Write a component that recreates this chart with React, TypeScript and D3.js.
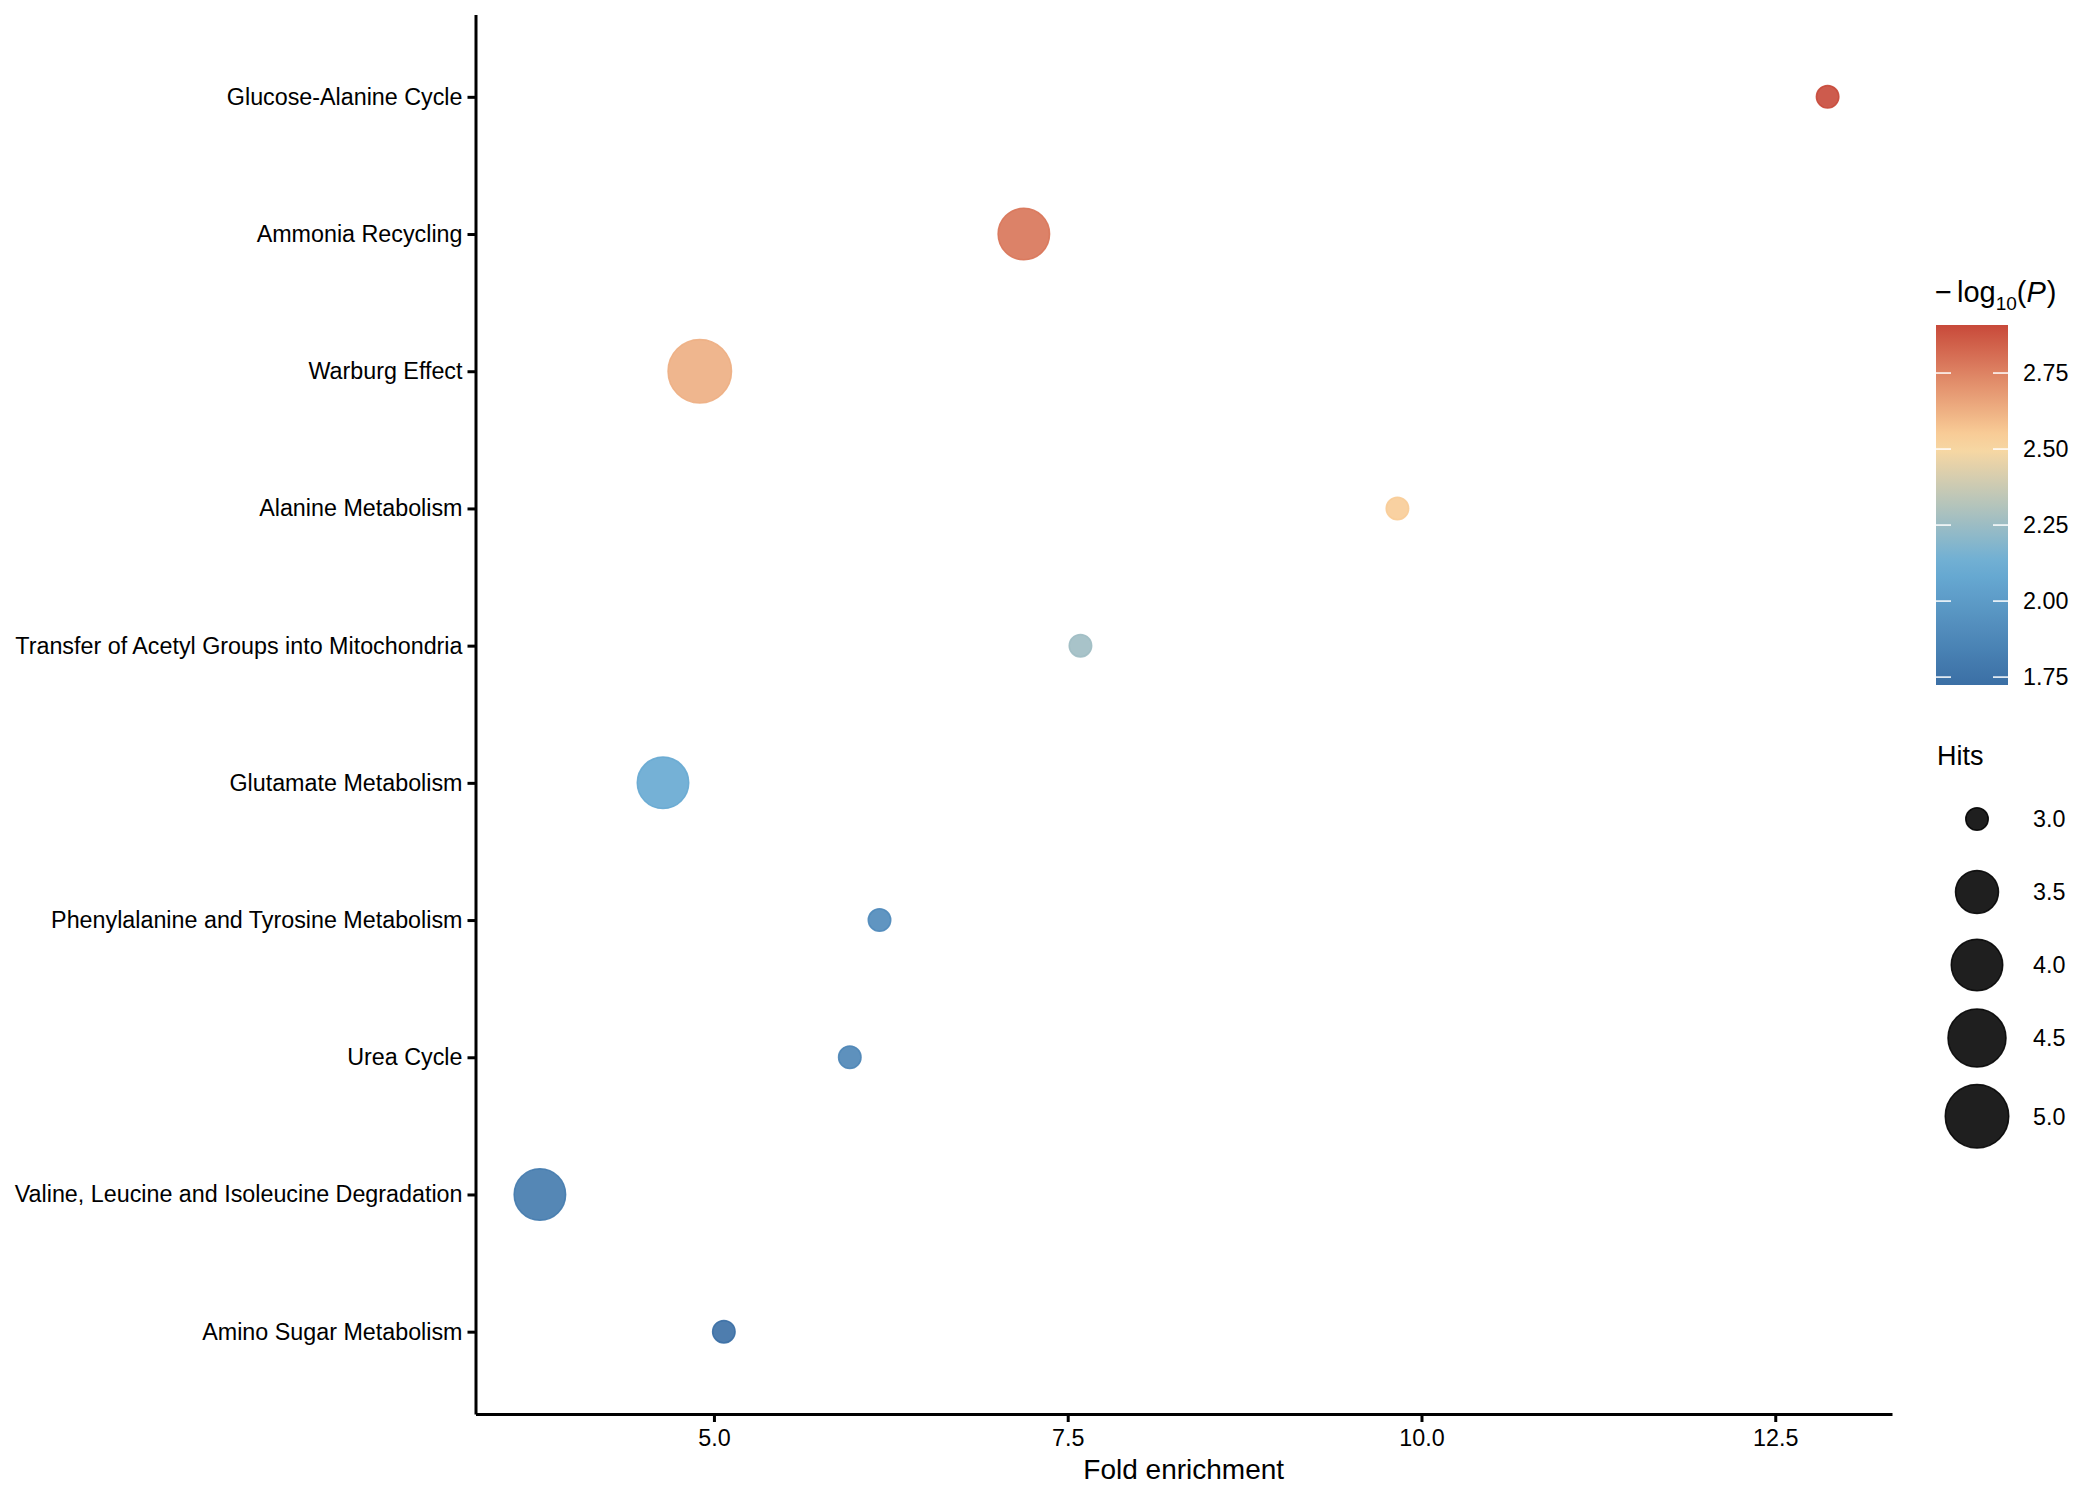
import { useEffect, useRef } from 'react'
import * as d3 from 'd3'

// pathways, top to bottom
const pathways = [
  'Glucose-Alanine Cycle',
  'Ammonia Recycling',
  'Warburg Effect',
  'Alanine Metabolism',
  'Transfer of Acetyl Groups into Mitochondria',
  'Glutamate Metabolism',
  'Phenylalanine and Tyrosine Metabolism',
  'Urea Cycle',
  'Valine, Leucine and Isoleucine Degradation',
  'Amino Sugar Metabolism',
]
const foldEnrichment = [12.87, 7.19, 4.9, 9.83, 7.59, 4.64, 6.17, 5.96, 3.77, 5.07]
const hits = [3, 4, 5, 3, 3, 4, 3, 3, 4, 3]
const negLogP = [2.908, 2.79, 2.63, 2.55, 2.26, 2.08, 1.89, 1.86, 1.79, 1.724]

const xTicks = [5, 7.5, 10, 12.5]
const pTicks = [1.75, 2.0, 2.25, 2.5, 2.75]
const hitTicks = [3, 3.5, 4, 4.5, 5]
const palette = ['#3B6FA5', '#6BAED6', '#FDD9A0', '#C8493A']

const FONT = '"Liberation Sans", Arial, Helvetica, sans-serif'

const App = () => {
  const ref = useRef<SVGSVGElement>(null)

  useEffect(() => {
    if (!ref.current) return
    const svg = d3.select(ref.current)
    svg.selectAll('*').remove()

    // panel
    const left = 475.5, right = 1892, top = 14.5, bottom = 1414

    const data = pathways.map((p, i) => ({
      p, fe: foldEnrichment[i], hits: hits[i], lp: negLogP[i],
    }))

    // x scale with ggplot-like 5% expansion
    const [xmin, xmax] = d3.extent(foldEnrichment) as [number, number]
    const pad = (xmax - xmin) * 0.05
    const x = d3.scaleLinear().domain([xmin - pad, xmax + pad]).range([left, right])

    const y = d3.scalePoint<string>().domain(pathways).range([top, bottom]).padding(0.6)

    // colour
    const [pmin, pmax] = d3.extent(negLogP) as [number, number]
    const color = d3.scaleLinear<string>()
      .domain(palette.map((_, i) => pmin + (i * (pmax - pmin)) / (palette.length - 1)))
      .range(palette)
      .interpolate(d3.interpolateRgb)

    // size (area-ish like ggplot scale_size)
    const hitT = d3.scaleLinear().domain([3, 5]).range([0, 1])
    const rScale = d3.scaleLinear().domain([0, 1]).range([12, 32.5])
    const radius = (h: number) => rScale(Math.sqrt(hitT(h)))

    const g = svg.append('g').style('font-family', FONT)

    // x axis
    const xAxis = g.append('g')
      .attr('transform', `translate(0,${bottom})`)
      .call(d3.axisBottom(x).tickValues(xTicks).tickFormat(d3.format('.1f')).tickSize(8).tickSizeOuter(0).tickPadding(7))
    xAxis.select('.domain').attr('stroke', '#000').attr('stroke-width', 3)
    xAxis.selectAll('.tick line').attr('stroke', '#000').attr('stroke-width', 3)
    xAxis.selectAll('.tick text').style('font-size', '23.3px').style('font-family', FONT).attr('fill', '#000')

    // y axis
    const yAxis = g.append('g')
      .attr('transform', `translate(${left},0)`)
      .call(d3.axisLeft(y).tickSize(8).tickSizeOuter(0).tickPadding(5))
    yAxis.select('.domain').attr('stroke', '#000').attr('stroke-width', 3)
    yAxis.selectAll('.tick line').attr('stroke', '#000').attr('stroke-width', 3)
    yAxis.selectAll('.tick text').style('font-size', '23.3px').style('font-family', FONT).attr('fill', '#000')

    // x title
    g.append('text')
      .attr('x', (left + right) / 2)
      .attr('y', 1479)
      .attr('text-anchor', 'middle')
      .style('font-size', '28px')
      .text('Fold enrichment')

    // points
    g.selectAll('.pt')
      .data(data)
      .enter()
      .append('circle')
      .attr('class', 'pt')
      .attr('cx', d => x(d.fe))
      .attr('cy', d => y(d.p) as number)
      .attr('r', d => radius(d.hits) - 0.75)
      .attr('fill', d => color(d.lp))
      .attr('fill-opacity', 0.9)
      .attr('stroke', d => color(d.lp))
      .attr('stroke-opacity', 0.9)
      .attr('stroke-width', 1.5)

    // colour bar legend
    const cbX = 1936, cbW = 72, cbTop = 325, cbBottom = 685
    const cy = d3.scaleLinear().domain([pmin, pmax]).range([cbBottom, cbTop])
    const defs = svg.append('defs')
    const grad = defs.append('linearGradient')
      .attr('id', 'cbar')
      .attr('x1', 0).attr('y1', 1).attr('x2', 0).attr('y2', 0)
    d3.range(0, 1.0001, 0.05).forEach(t => {
      grad.append('stop')
        .attr('offset', t)
        .attr('stop-color', color(pmin + t * (pmax - pmin)))
    })
    g.append('rect')
      .attr('x', cbX).attr('y', cbTop)
      .attr('width', cbW).attr('height', cbBottom - cbTop)
      .attr('fill', 'url(#cbar)')
    pTicks.forEach(t => {
      g.append('line')
        .attr('x1', cbX).attr('x2', cbX + 15)
        .attr('y1', cy(t)).attr('y2', cy(t))
        .attr('stroke', '#fff').attr('stroke-width', 1.5)
      g.append('line')
        .attr('x1', cbX + cbW - 15).attr('x2', cbX + cbW)
        .attr('y1', cy(t)).attr('y2', cy(t))
        .attr('stroke', '#fff').attr('stroke-width', 1.5)
      g.append('text')
        .attr('x', 2023)
        .attr('y', cy(t))
        .attr('dy', '0.36em')
        .style('font-size', '23.3px')
        .text(d3.format('.2f')(t))
    })

    // colour bar title: -log10(P)
    const title = g.append('text').attr('x', 1935).attr('y', 302).style('font-size', '29px')
    title.append('tspan').text('\u2212')
    title.append('tspan').attr('dx', 5).text('log')
    title.append('tspan').attr('dy', 8).style('font-size', '19px').text('10')
    title.append('tspan').attr('dy', -8).text('(')
    title.append('tspan').style('font-style', 'italic').text('P')
    title.append('tspan').attr('dx', 1).text(')')

    // size legend
    g.append('text')
      .attr('x', 1937).attr('y', 765)
      .style('font-size', '27px')
      .text('Hits')
    let yy = 819
    hitTicks.forEach((h, i) => {
      if (i > 0) yy += Math.max(73, radius(hitTicks[i - 1]) + radius(h) + 16)
      g.append('circle')
        .attr('cx', 1977).attr('cy', yy)
        .attr('r', radius(h) - 0.75)
        .attr('fill', '#000').attr('fill-opacity', 0.88)
        .attr('stroke', '#000').attr('stroke-opacity', 0.88)
        .attr('stroke-width', 1.5)
      g.append('text')
        .attr('x', 2033).attr('y', yy)
        .attr('dy', '0.36em')
        .style('font-size', '23.3px')
        .text(d3.format('.1f')(h))
    })
  }, [])

  return (
    <svg
      ref={ref}
      width={2100}
      height={1500}
      style={{ position: 'absolute', left: 0, top: 0, background: '#fff' }}
    />
  )
}

export default App
